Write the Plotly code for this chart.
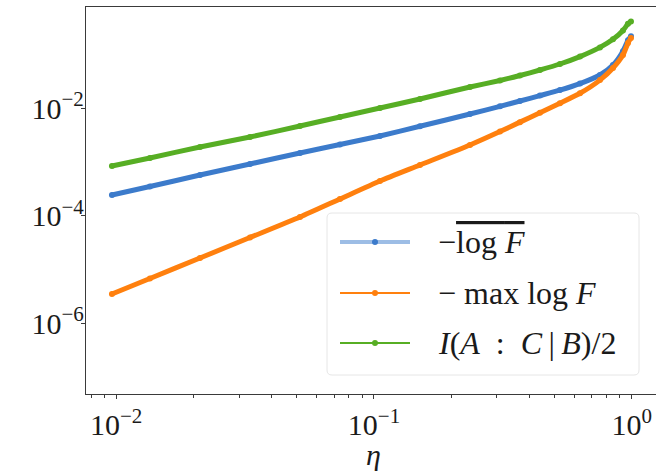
import plotly.graph_objects as go

# ---- data ----
eta = [0.00963, 0.01352, 0.02114, 0.03304, 0.05164, 0.07381, 0.1055, 0.1508,
       0.2357, 0.3082, 0.3683, 0.4404, 0.5265, 0.6296, 0.7527, 0.8455,
       0.9245, 0.9667, 0.993]
neg_mean_logF = [2.435e-4, 3.504e-4, 5.733e-4, 9.18e-4, 1.470e-3, 2.115e-3,
                 3.043e-3, 4.61e-3, 7.80e-3, 1.084e-2, 1.360e-2, 1.717e-2,
                 2.171e-2, 2.866e-2, 4.141e-2, 6.353e-2, 0.1148, 0.1830, 0.2170]
neg_max_logF = [3.52e-6, 6.83e-6, 1.643e-5, 3.95e-5, 9.50e-5, 2.053e-4,
                4.434e-4, 8.79e-4, 2.070e-3, 3.675e-3, 5.51e-3, 8.26e-3,
                1.238e-2, 1.895e-2, 3.330e-2, 5.59e-2, 9.745e-2, 0.1628, 0.2017]
half_cmi = [8.43e-4, 1.187e-3, 1.900e-3, 2.915e-3, 4.668e-3, 6.862e-3,
            1.0085e-2, 1.483e-2, 2.477e-2, 3.28e-2, 4.05e-2, 5.13e-2,
            6.63e-2, 9.11e-2, 0.1350, 0.1905, 0.2790, 0.3694, 0.4091]

series_names = ["−<span style='text-decoration:overline'>log <i>F</i></span>",
                "− max log <i>F</i>",
                "<i>I</i>(<i>A</i>\u2002:\u2002<i>C</i>\u2009|\u2009<i>B</i>)/2"]
series_values = [neg_mean_logF, neg_max_logF, half_cmi]
colors = ["#3c7bcb", "#ff800e", "#57ae24"]
legend_line_colors = ["rgba(60,123,203,0.5)", "#ff800e", "#57ae24"]
legend_line_widths = [4, 2, 2]

x_tickvals = [0.01, 0.1, 1]
x_ticktext = ["10<sup>−2</sup>", "10<sup>−1</sup>", "10<sup>0</sup>"]
x_minor = [0.008, 0.009] + [k * 0.01 for k in range(2, 10)] + [k * 0.1 for k in range(2, 10)]
y_tickvals = [1e-6, 1e-4, 1e-2]
y_ticktext = ["10<sup>−6</sup>", "10<sup>−4</sup>", "10<sup>−2</sup>"]
x_title = "<i>η</i>"

FONT = "Liberation Serif"
W, H = 656, 474
ML, MR, MT, MB = 86, 0, 7, 80
PW, PH = W - ML - MR, H - MT - MB


def px(xp):
    return (xp - ML) / PW


def py(yp):
    return (H - MB - yp) / PH


fig = go.Figure()
for vals, col in zip(series_values, colors):
    fig.add_trace(go.Scatter(
        x=eta, y=vals, mode="lines+markers",
        line=dict(color=col, width=5, shape="spline", smoothing=0.6),
        marker=dict(color=col, size=6),
        showlegend=False, hoverinfo="skip"))

axis_common = dict(
    type="log", showline=True, linecolor="#3a3a3a", linewidth=1.4,
    showgrid=False, zeroline=False, ticks="outside", ticklen=4,
    tickcolor="#3a3a3a", tickwidth=1.2,
    tickfont=dict(family=FONT, size=30, color="#1a1a1a"),
)

fig.update_xaxes(
    **axis_common, range=[-2.117, 0.094], mirror=True,
    tickmode="array", tickvals=x_tickvals, ticktext=x_ticktext,
    minor=dict(tickmode="array", tickvals=x_minor, ticks="outside",
               ticklen=2.5, tickcolor="#3a3a3a", tickwidth=1, showgrid=False),
)
fig.update_yaxes(
    **axis_common, range=[-7.312, -0.119],
    tickmode="array", tickvals=y_tickvals, ticktext=y_ticktext,
    ticklabelstandoff=-9,
)

# x-axis title
fig.add_annotation(x=px(373), y=py(455), xref="paper", yref="paper",
                   text=x_title, showarrow=False, xanchor="center", yanchor="middle",
                   font=dict(family=FONT, size=30, color="#1a1a1a"))

# ---- legend box (rounded) ----
bx0, bx1, by0, by1 = px(327), px(639), py(375), py(213)
rx, ry = 5 / PW, 5 / PH
path = (f"M {bx0+rx},{by1} L {bx1-rx},{by1} Q {bx1},{by1} {bx1},{by1-ry} "
        f"L {bx1},{by0+ry} Q {bx1},{by0} {bx1-rx},{by0} "
        f"L {bx0+rx},{by0} Q {bx0},{by0} {bx0},{by0+ry} "
        f"L {bx0},{by1-ry} Q {bx0},{by1} {bx0+rx},{by1} Z")
fig.add_shape(type="path", path=path, xref="paper", yref="paper",
              line=dict(color="#e6e6e6", width=1), fillcolor="rgba(255,255,255,0.85)")

rows_y = [242, 293, 343]
for name, col, lcol, lw, ry_px in zip(series_names, colors, legend_line_colors,
                                     legend_line_widths, rows_y):
    fig.add_shape(type="line", xref="paper", yref="paper",
                  x0=px(340), x1=px(410), y0=py(ry_px), y1=py(ry_px),
                  line=dict(color=lcol, width=lw))
    fig.add_shape(type="circle", xref="paper", yref="paper",
                  xsizemode="pixel", ysizemode="pixel",
                  xanchor=px(375), yanchor=py(ry_px),
                  x0=-3, x1=3, y0=-3, y1=3,
                  fillcolor=col, line=dict(color=col, width=0))
    fig.add_annotation(x=px(436), y=py(ry_px), xref="paper", yref="paper",
                       text=name, showarrow=False, xanchor="left", yanchor="middle",
                       font=dict(family=FONT, size=32, color="#1a1a1a"))

fig.update_layout(
    width=W, height=H,
    margin=dict(l=ML, r=MR, t=MT, b=MB),
    paper_bgcolor="white", plot_bgcolor="white",
    showlegend=False,
)

fig.write_html("out.html")
